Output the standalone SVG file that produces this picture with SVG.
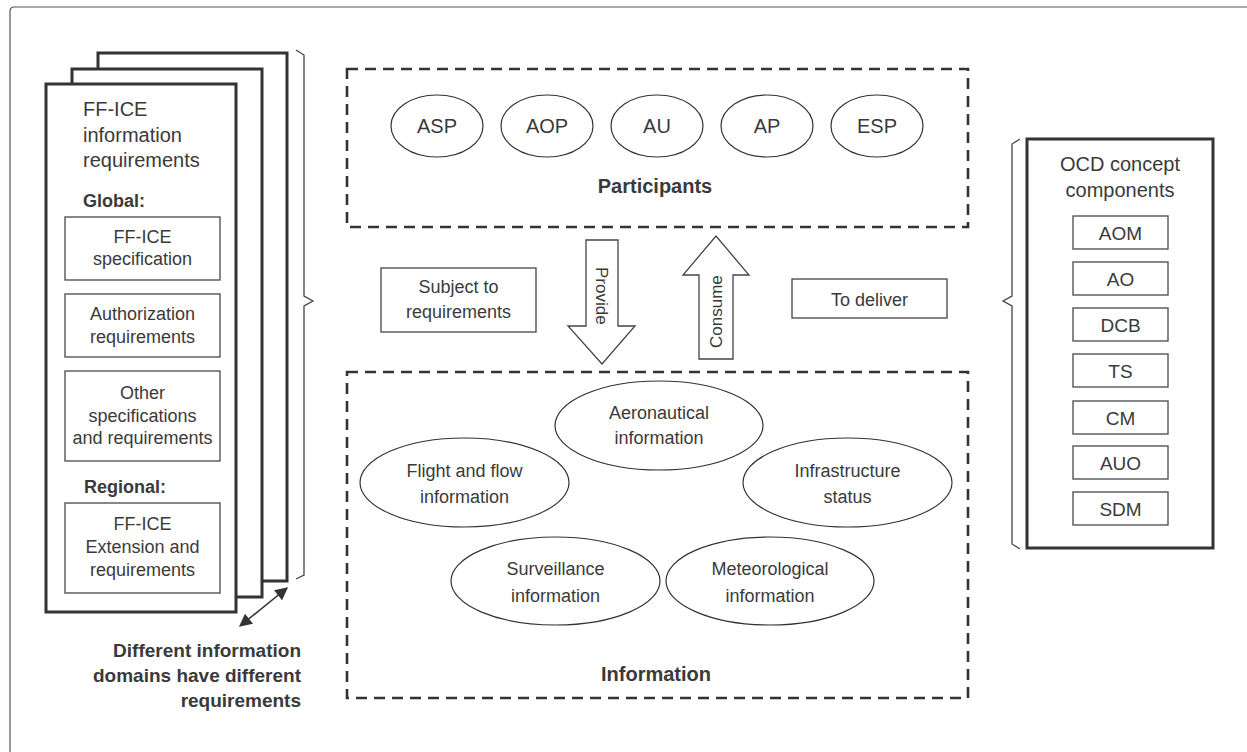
<svg xmlns="http://www.w3.org/2000/svg" width="1247" height="752" viewBox="0 0 1247 752">
  <style>
    text { font-family: "Liberation Sans", Arial, sans-serif; fill: #3a3a3a; }
    .t20 { font-size: 20px; }
    .t18 { font-size: 18px; }
    .t17 { font-size: 17px; }
    .b { font-weight: bold; }
    .mid { text-anchor: middle; }
    .end { text-anchor: end; }
    .page { fill: #ffffff; stroke: #333333; stroke-width: 3; }
    .inbox { fill: #ffffff; stroke: #555555; stroke-width: 1.4; }
    .dash { fill: none; stroke: #333333; stroke-width: 2.6; stroke-dasharray: 11 7; }
    .ell { fill: #ffffff; stroke: #333333; stroke-width: 1.2; }
    .brace { fill: none; stroke: #444444; stroke-width: 1.3; stroke-linejoin: miter; }
    .blk { fill: #ffffff; stroke: #444444; stroke-width: 1.3; }
  </style>
  <defs>
    <marker id="head" viewBox="0 0 10 10" refX="9" refY="5" markerWidth="9" markerHeight="8" orient="auto-start-reverse" markerUnits="strokeWidth">
      <path d="M0,0 L10,5 L0,10 Z" fill="#333333"/>
    </marker>
  </defs>

  <rect width="1247" height="752" fill="#ffffff"/>
  <!-- frame -->
  <path d="M10,752 V11 Q10,7 14,7 H1247" fill="none" stroke="#555555" stroke-width="1.2"/>

  <!-- stacked requirement pages -->
  <g id="requirements-stack">
    <rect class="page" x="98" y="53" width="189" height="528"/>
    <rect class="page" x="72" y="69" width="190" height="528"/>
    <rect class="page" x="46" y="84" width="190" height="528"/>
    <text class="t20" x="83" y="116">FF-ICE</text>
    <text class="t20" x="83" y="142">information</text>
    <text class="t20" x="83" y="167">requirements</text>
    <text class="t18 b" x="83" y="207">Global:</text>
    <g id="spec-box">
      <rect class="inbox" x="65" y="217" width="155" height="63"/>
      <text class="t18 mid" x="142.5" y="243">FF-ICE</text>
      <text class="t18 mid" x="142.5" y="265">specification</text>
    </g>
    <g id="auth-box">
      <rect class="inbox" x="65" y="294" width="155" height="63"/>
      <text class="t18 mid" x="142.5" y="320">Authorization</text>
      <text class="t18 mid" x="142.5" y="343">requirements</text>
    </g>
    <g id="other-box">
      <rect class="inbox" x="65" y="371" width="155" height="90"/>
      <text class="t18 mid" x="142.5" y="399">Other</text>
      <text class="t18 mid" x="142.5" y="422">specifications</text>
      <text class="t18 mid" x="142.5" y="444">and requirements</text>
    </g>
    <text class="t18 b" x="84" y="493">Regional:</text>
    <g id="ext-box">
      <rect class="inbox" x="65" y="503" width="155" height="90"/>
      <text class="t18 mid" x="142.5" y="530">FF-ICE</text>
      <text class="t18 mid" x="142.5" y="553">Extension and</text>
      <text class="t18 mid" x="142.5" y="576">requirements</text>
    </g>
  </g>

  <g id="domains-note">
    <text class="t20 b end" x="301" y="657" style="font-size:19px">Different information</text>
    <text class="t20 b end" x="301" y="682" style="font-size:19px">domains have different</text>
    <text class="t20 b end" x="301" y="707" style="font-size:19px">requirements</text>
  </g>

  <!-- participants -->
  <g id="participants">
    <rect class="dash" x="347" y="69" width="621" height="158"/>
    <g id="asp"><ellipse class="ell" cx="437" cy="126" rx="46" ry="31"/><text class="t20 mid" x="437" y="133">ASP</text></g>
    <g id="aop"><ellipse class="ell" cx="547" cy="126" rx="46" ry="31"/><text class="t20 mid" x="547" y="133">AOP</text></g>
    <g id="au"><ellipse class="ell" cx="657" cy="126" rx="46" ry="31"/><text class="t20 mid" x="657" y="133">AU</text></g>
    <g id="ap"><ellipse class="ell" cx="767" cy="126" rx="46" ry="31"/><text class="t20 mid" x="767" y="133">AP</text></g>
    <g id="esp"><ellipse class="ell" cx="877" cy="126" rx="46" ry="31"/><text class="t20 mid" x="877" y="133">ESP</text></g>
    <text class="t20 b mid" x="655" y="193">Participants</text>
  </g>

  <g id="subject-to">
    <rect class="blk" x="381" y="268" width="155" height="64"/>
    <text class="t18 mid" x="458.5" y="293">Subject to</text>
    <text class="t18 mid" x="458.5" y="318">requirements</text>
  </g>

  <g id="to-deliver">
    <rect class="blk" x="792" y="279" width="155" height="39"/>
    <text class="t18 mid" x="869.5" y="306">To deliver</text>
  </g>

  <!-- information -->
  <g id="information">
    <rect class="dash" x="347" y="372" width="621" height="326"/>
    <g id="aero"><ellipse class="ell" cx="659" cy="425.5" rx="104" ry="44.5"/>
      <text class="t18 mid" x="659" y="419">Aeronautical</text><text class="t18 mid" x="659" y="444">information</text></g>
    <g id="flight"><ellipse class="ell" cx="464.5" cy="482.5" rx="104.5" ry="44.5"/>
      <text class="t18 mid" x="464.5" y="477">Flight and flow</text><text class="t18 mid" x="464.5" y="503">information</text></g>
    <g id="infra"><ellipse class="ell" cx="847.5" cy="482.5" rx="104.5" ry="44.5"/>
      <text class="t18 mid" x="847.5" y="477">Infrastructure</text><text class="t18 mid" x="847.5" y="503">status</text></g>
    <g id="surv"><ellipse class="ell" cx="555.5" cy="581" rx="104.5" ry="44"/>
      <text class="t18 mid" x="555.5" y="575">Surveillance</text><text class="t18 mid" x="555.5" y="602">information</text></g>
    <g id="met"><ellipse class="ell" cx="770" cy="581" rx="104" ry="44"/>
      <text class="t18 mid" x="770" y="575">Meteorological</text><text class="t18 mid" x="770" y="602">information</text></g>
    <text class="t20 b mid" x="656" y="681">Information</text>
  </g>

  <!-- OCD concept components -->
  <g id="ocd">
    <rect class="page" x="1027" y="139" width="186" height="409"/>
    <text class="t20 mid" x="1120" y="171">OCD concept</text>
    <text class="t20 mid" x="1120" y="197">components</text>
    <g id="aom"><rect class="inbox" x="1073" y="216" width="95" height="33"/><text class="t20 mid" x="1120.5" y="240" style="font-size:19px">AOM</text></g>
    <g id="ao"><rect class="inbox" x="1073" y="262" width="95" height="33"/><text class="t20 mid" x="1120.5" y="286" style="font-size:19px">AO</text></g>
    <g id="dcb"><rect class="inbox" x="1073" y="308" width="95" height="33"/><text class="t20 mid" x="1120.5" y="332" style="font-size:19px">DCB</text></g>
    <g id="ts"><rect class="inbox" x="1073" y="354" width="95" height="33"/><text class="t20 mid" x="1120.5" y="378" style="font-size:19px">TS</text></g>
    <g id="cm"><rect class="inbox" x="1073" y="401" width="95" height="33"/><text class="t20 mid" x="1120.5" y="425" style="font-size:19px">CM</text></g>
    <g id="auo"><rect class="inbox" x="1073" y="446" width="95" height="33"/><text class="t20 mid" x="1120.5" y="470" style="font-size:19px">AUO</text></g>
    <g id="sdm"><rect class="inbox" x="1073" y="492" width="95" height="33"/><text class="t20 mid" x="1120.5" y="516" style="font-size:19px">SDM</text></g>
  </g>

  <!-- connectors: braces, block arrows, double arrow -->
  <g id="connectors">
    <path class="brace" d="M296,50 L304,55 L304,296 L313,301 L304,306 L304,575 L296,579"/>
    <path class="brace" d="M1020,139 L1012,144 L1012,296 L1003,301 L1012,306 L1012,544 L1020,549"/>
    <g id="provide">
      <path class="blk" d="M586,240 H618 V326 H635 L602,364 L568,326 H586 Z"/>
      <text class="t17" transform="translate(596,267) rotate(90)">Provide</text>
    </g>
    <g id="consume">
      <path class="blk" d="M699,359 H733 V275 H749 L716,236 L683,275 H699 Z"/>
      <text class="t17" transform="translate(722,348) rotate(-90)">Consume</text>
    </g>
    <line x1="240" y1="626" x2="287" y2="588" stroke="#333333" stroke-width="1.6" marker-start="url(#head)" marker-end="url(#head)"/>
  </g>
</svg>
